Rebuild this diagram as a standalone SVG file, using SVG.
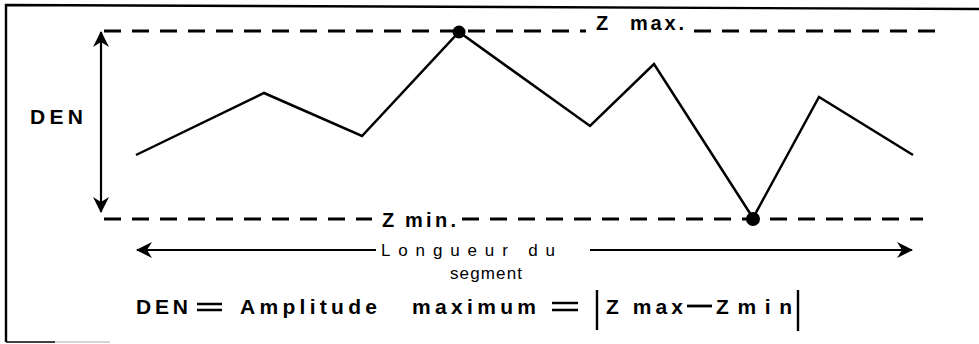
<svg xmlns="http://www.w3.org/2000/svg" width="979" height="344" viewBox="0 0 979 344">
<style>
.frame{stroke:#000;stroke-width:2.4;fill:none}
.dash{stroke:#000;stroke-width:2.8;stroke-dasharray:17 11;fill:none}
.prof{stroke:#000;stroke-width:2.5;fill:none;stroke-linejoin:miter}
.arr{stroke:#000;stroke-width:2.2;fill:none}
.b{font-family:"Liberation Sans",Arial,sans-serif;font-weight:bold;fill:#000}
.r{font-family:"Liberation Sans",Arial,sans-serif;fill:#000}
</style>
<defs>
<marker id="ah" viewBox="0 0 16 16" refX="15" refY="8" markerWidth="16" markerHeight="16" markerUnits="userSpaceOnUse" orient="auto">
<path d="M0,0 L16,8 L0,16 L5,8 Z" fill="#000"/>
</marker>
</defs>
<rect width="979" height="344" fill="#fff"/>
<g id="frame">
<path class="frame" d="M6,342 L6,5 L979,9"/>
<path d="M6,342 L55,342" stroke="#000" stroke-width="1.5"/>
<path d="M55,342 L110,342" stroke="#aaa" stroke-width="1"/>
</g>
<g id="zmax">
<path class="dash" d="M104,31 L586,31"/>
<path class="dash" d="M694,31 L938,31"/>
<text class="b" x="596" y="30" font-size="20">Z</text>
<text class="b" x="630" y="30" font-size="20" textLength="54" lengthAdjust="spacing">max.</text>
</g>
<g id="zmin">
<path class="dash" d="M104,219 L372,219"/>
<path class="dash" d="M462,219 L923,219"/>
<text class="b" x="382" y="227" font-size="20">Z</text>
<text class="b" x="405" y="227" font-size="20" textLength="51" lengthAdjust="spacing">min.</text>
</g>
<g id="profile">
<polyline class="prof" points="136,155 264,93 362,136 459,32 590,126 654,64 753,218 819,97 913,155"/>
<circle cx="459" cy="32" r="6.5" fill="#000"/>
<circle cx="753" cy="219" r="7" fill="#000"/>
</g>
<g id="den-label">
<text class="b" x="30" y="124" font-size="21" textLength="53" lengthAdjust="spacing">DEN</text>
</g>
<g id="connectors">
<path class="arr" d="M101,118 L101,32" marker-end="url(#ah)"/>
<path class="arr" d="M101,118 L101,212" marker-end="url(#ah)"/>
<path class="arr" d="M376,250 L137,250" marker-end="url(#ah)"/>
<path class="arr" d="M590,250 L912,250" marker-end="url(#ah)"/>
</g>
<g id="length-label">
<text class="r" x="381" y="256" font-size="17" textLength="174" lengthAdjust="spacing">Longueur du</text>
<text class="r" x="450" y="279" font-size="17" textLength="72" lengthAdjust="spacing">segment</text>
</g>
<g id="formula">
<text class="b" x="136" y="314" font-size="21" textLength="52" lengthAdjust="spacing">DEN</text>
<path d="M197,304 L222,304 M197,310 L222,310" stroke="#000" stroke-width="2.6"/>
<text class="b" x="240" y="314" font-size="21" textLength="137" lengthAdjust="spacing">Amplitude</text>
<text class="b" x="412" y="314" font-size="21" textLength="124" lengthAdjust="spacing">maximum</text>
<path d="M552,303 L578,303 M552,310 L578,310" stroke="#000" stroke-width="2.6"/>
<path d="M597,290 L597,330 M798,290 L798,331" stroke="#000" stroke-width="2.4"/>
<text class="b" x="606" y="314" font-size="21" textLength="77" lengthAdjust="spacing">Z max</text>
<path d="M687,306 L712,306" stroke="#000" stroke-width="2.8"/>
<text class="b" x="716" y="314" font-size="21" textLength="76" lengthAdjust="spacing">Zmin</text>
</g>
</svg>
